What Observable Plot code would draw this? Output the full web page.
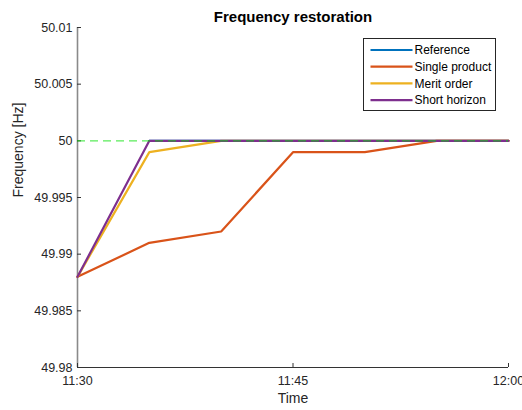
<!DOCTYPE html>
<html>
<head>
<meta charset="utf-8">
<script src="https://cdn.jsdelivr.net/npm/d3@7"></script>
<script src="https://cdn.jsdelivr.net/npm/@observablehq/plot@0.6"></script>
<style>
  html, body { margin: 0; padding: 0; background: #fff; }
  #chart { position: relative; width: 522px; height: 410px; font-family: "Liberation Sans", Arial, sans-serif; }
  #chart svg { position: absolute; left: 0; top: 0; }
</style>
</head>
<body>
<div id="chart"></div>
<script>
// Time in minutes after 11:00
const times = [30, 35, 40, 45, 50, 55, 60];
const seriesNames = ["Reference", "Single product", "Merit order", "Short horizon"];
const reference     = [null, 50, 50, 50, 50, 50, 50];
const singleProduct = [49.988, 49.991, 49.992, 49.999, 49.999, 50, 50];
const meritOrder    = [49.988, 49.999, 50, 50, 50, 50, 50];
const shortHorizon  = [49.988, 50, 50, 50, 50, 50, 50];
const nominal = 50;
const xTicks = [30, 45, 60];
const xTickLabels = ["11:30", "11:45", "12:00"];
const yTicks = [49.98, 49.985, 49.99, 49.995, 50, 50.005, 50.01];
const yTickLabels = ["49.98", "49.985", "49.99", "49.995", "50", "50.005", "50.01"];
const colors = ["#0072BD", "#D95319", "#EDB120", "#7E2F8E"];

const allSeries = [reference, singleProduct, meritOrder, shortHorizon];
const rows = [];
allSeries.forEach((vals, si) => vals.forEach((v, i) => rows.push({series: seriesNames[si], t: times[i], f: v})));

const W = 522, H = 410;
const plot = Plot.plot({
  width: W, height: H,
  marginLeft: 77, marginRight: 14, marginTop: 27, marginBottom: 43,
  style: {fontFamily: "Liberation Sans, Arial, sans-serif", fontSize: "12.5px", color: "#262626", background: "transparent"},
  x: {domain: [30, 60]},
  y: {domain: [49.98, 50.01]},
  color: {domain: seriesNames, range: colors},
  marks: [
    Plot.ruleX([30], {stroke: "#8a8a8a", strokeWidth: 1.6}),
    Plot.ruleY([49.98], {stroke: "#333", strokeWidth: 1}),
    Plot.axisX({ticks: xTicks, tickFormat: (d) => xTickLabels[xTicks.indexOf(d)], tickSize: -4, tickPadding: 13, stroke: "#333", label: null, fill: "#262626"}),
    Plot.axisY({ticks: yTicks, tickFormat: (d, i) => yTickLabels[i], tickSize: -4, tickPadding: 9, stroke: "#333", label: null, fill: "#262626"}),
    Plot.line(rows, {x: "t", y: "f", z: "series", stroke: "series", strokeWidth: 2.2, strokeLinejoin: "miter"}),
    Plot.ruleY([nominal], {x1: 30, x2: 60, stroke: "#00e000", strokeOpacity: 0.65, strokeWidth: 1.4, strokeDasharray: "8,5"}),
    Plot.text(["Frequency restoration"], {frameAnchor: "top", dy: -16, fontWeight: "bold", fontSize: 15, fill: "#000"}),
    Plot.text(["Time"], {frameAnchor: "bottom", dy: 35, fontSize: 14, fill: "#262626"}),
    Plot.text(["Frequency [Hz]"], {frameAnchor: "left", dx: -59, rotate: -90, fontSize: 14, fill: "#262626"})
  ]
});
document.getElementById("chart").appendChild(plot);

// Legend
const svg = d3.select(plot);
const lg = svg.append("g").attr("transform", "translate(363.5,38.5)");
lg.append("rect").attr("width", 132).attr("height", 72).attr("fill", "#fff").attr("stroke", "#262626").attr("stroke-width", 1);
seriesNames.forEach((name, i) => {
  const y = 11.5 + i * 16.7;
  lg.append("line").attr("x1", 7).attr("x2", 49).attr("y1", y).attr("y2", y).attr("stroke", colors[i]).attr("stroke-width", 2.2);
  lg.append("text").attr("x", 51).attr("y", y).attr("dy", "0.35em").attr("font-size", 12).attr("fill", "#000")
    .attr("text-anchor", "start")
    .attr("font-family", "Liberation Sans, Arial, sans-serif").text(name);
});
</script>
</body>
</html>
